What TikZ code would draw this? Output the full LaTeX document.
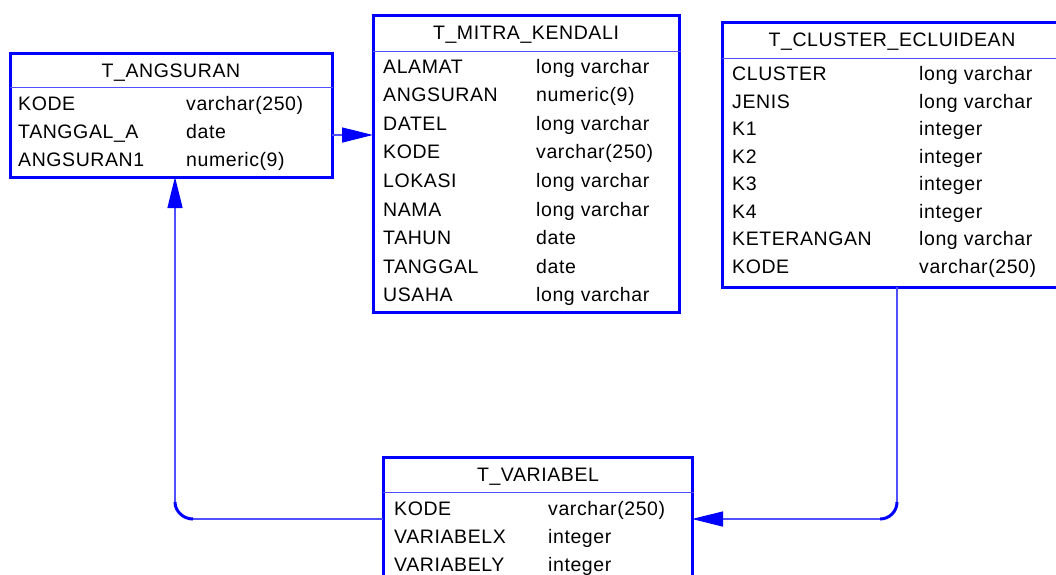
\documentclass[tikz,border=0pt]{standalone}
\usepackage{fontspec}
\newfontfamily\tabfont[LetterSpace=3]{Liberation Sans}
\usetikzlibrary{arrows.meta}
\definecolor{entblue}{RGB}{0,0,255}
\definecolor{linkblue}{RGB}{80,80,255}
\tikzset{
  tbl/.style={draw=entblue, line width=3pt, rectangle, inner sep=0pt, outer sep=0pt},
  hdr/.style={draw=linkblue, line width=1pt},
  ttl/.style={anchor=base, inner sep=0pt, font=\tabfont\fontsize{19.5}{22}\selectfont},
  fld/.style={anchor=base west, inner sep=0pt, font=\tabfont\fontsize{19.5}{22}\selectfont},
  conn/.style={draw=linkblue, line width=1.3pt},
  corner/.style={draw=entblue, line width=3pt},
  tipend/.style={-{Triangle[length=31pt,width=15pt,color=entblue]}},
}
\begin{document}
\begin{tikzpicture}[x=1pt,y=-1pt]
\useasboundingbox (0,0) rectangle (1056,574);
\clip (0,0) rectangle (1056,574);
\fill[white] (0,0) rectangle (1056,574);

% table frames
\node[tbl, minimum width=322pt, minimum height=124pt] (ang) at (171,115) {};
\node[tbl, minimum width=306pt, minimum height=297pt] (mit) at (526,163.5) {};
\node[tbl, minimum width=340pt, minimum height=265pt] (clu) at (892,154.5) {};
\node[tbl, minimum width=309pt, minimum height=143pt] (var) at (537.5,528.5) {};

% header rules
\draw[hdr] (10,87) -- (333,87);
\draw[hdr] (373,51) -- (681,51);
\draw[hdr] (722,58) -- (1060,58);
\draw[hdr] (383,492) -- (694,492);

% titles
\node[ttl] (ang-t) at (171,77) {T\_ANGSURAN};
\node[ttl] (mit-t) at (526,39) {T\_MITRA\_KENDALI};
\node[ttl] (clu-t) at (892,46) {T\_CLUSTER\_ECLUIDEAN};
\node[ttl] (var-t) at (538,481) {T\_VARIABEL};

% T_ANGSURAN columns
\foreach \f/\t [count=\i] in {KODE/varchar(250), TANGGAL\_A/date, ANGSURAN1/numeric(9)} {
  \node[fld] (ang-f\i) at (18,{110+28*(\i-1)}) {\f};
  \node[fld] (ang-d\i) at (186,{110+28*(\i-1)}) {\t};
}

% T_MITRA_KENDALI columns
\foreach \f/\t [count=\i] in {ALAMAT/long varchar, ANGSURAN/numeric(9), DATEL/long varchar,
    KODE/varchar(250), LOKASI/long varchar, NAMA/long varchar, TAHUN/date,
    TANGGAL/date, USAHA/long varchar} {
  \node[fld] (mit-f\i) at (383,{73+28.6*(\i-1)}) {\f};
  \node[fld] (mit-d\i) at (536,{73+28.6*(\i-1)}) {\t};
}

% T_CLUSTER_ECLUIDEAN columns
\foreach \f/\t [count=\i] in {CLUSTER/long varchar, JENIS/long varchar, K1/integer,
    K2/integer, K3/integer, K4/integer, KETERANGAN/long varchar, KODE/varchar(250)} {
  \node[fld] (clu-f\i) at (732,{80.7+27.5*(\i-1)}) {\f};
  \node[fld] (clu-d\i) at (919,{80.7+27.5*(\i-1)}) {\t};
}

% T_VARIABEL columns
\foreach \f/\t [count=\i] in {KODE/varchar(250), VARIABELX/integer, VARIABELY/integer} {
  \node[fld] (var-f\i) at (394,{515+28*(\i-1)}) {\f};
  \node[fld] (var-d\i) at (548,{515+28*(\i-1)}) {\t};
}

% helper levels for the references
\coordinate (yref) at (0,135);
\coordinate (ylow) at (0,519);
\coordinate (xleft) at (175,0);
\coordinate (xright) at (897,0);
\coordinate (lbendA) at (193,519);
\coordinate (lbendB) at (175,502);
\coordinate (rbendA) at (897,502);
\coordinate (rbendB) at (880,519);

% T_ANGSURAN -> T_MITRA_KENDALI
\draw[conn, tipend] (ang.east |- yref) -- (mit.west |- yref);

% T_VARIABEL -> T_ANGSURAN
\draw[conn] (var.west |- ylow) -- (lbendA);
\draw[corner] (lbendA) .. controls (183.4,519) and (175,511.4) .. (lbendB);
\draw[conn, tipend] (lbendB) -- (ang.south -| xleft);

% T_CLUSTER_ECLUIDEAN -> T_VARIABEL
\draw[conn] (clu.south -| xright) -- (rbendA);
\draw[corner] (rbendA) .. controls (897,511.4) and (889.4,519) .. (rbendB);
\draw[conn, tipend] (rbendB) -- (var.east |- ylow);
\end{tikzpicture}
\end{document}
